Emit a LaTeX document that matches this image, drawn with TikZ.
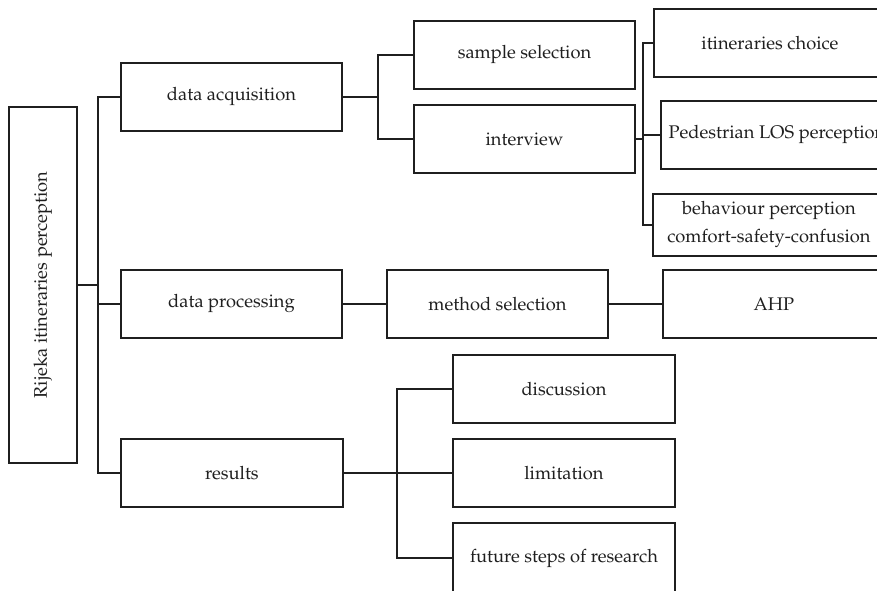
\documentclass[tikz,border=0pt]{standalone}
\usepackage[T1]{fontenc}
\usepackage{mathpazo}
\begin{document}
\begin{tikzpicture}[x=1pt,y=-1pt,
  box/.style={draw=black!88, line width=1.9pt, anchor=north west, inner sep=0pt,
    align=center, text=black!88, font=\fontsize{18.3}{28}\selectfont,
    minimum height=68pt},
  link/.style={draw=black!88, line width=1.9pt}]
\useasboundingbox (0,0) rectangle (877,590);
\clip (0,0) rectangle (877,590);
\fill[white] (0,0) rectangle (877,590);

% root
\node[box, minimum width=68pt, minimum height=356pt] (root) at (8,106)
  {\rotatebox{90}{Rijeka itineraries perception}};

% first level
\node[box, minimum width=221pt] (da) at (120,62) {data acquisition};
\node[box, minimum width=221pt] (dp) at (120,269) {data processing};
\node[box, minimum width=222pt] (res) at (120,438) {results};

% data acquisition branch
\node[box, minimum width=221pt] (ss) at (413,20) {sample selection};
\node[box, minimum width=221pt] (iv) at (413,104) {interview};
\node[box, minimum width=232pt] (it) at (653,8) {itineraries choice};
\node[box, minimum width=232pt] (ped) at (660,100) {Pedestrian LOS perception};
\node[box, minimum width=232pt, minimum height=62pt] (beh) at (652,193)
  {behaviour perception\\comfort-safety-confusion};

% data processing branch
\node[box, minimum width=221pt] (ms) at (386,269) {method selection};
\node[box, minimum width=222pt] (ahp) at (662,269) {AHP};

% results branch
\node[box, minimum width=222pt] (disc) at (452,354) {discussion};
\node[box, minimum width=222pt] (lim) at (452,438) {limitation};
\node[box, minimum width=222pt, minimum height=70pt] (fut) at (452,522) {future steps of research};

% connectors
\coordinate (t0) at (98,0);
\draw[link] (root.east) -- (root.east -| t0);
\draw[link] (da.west) -| (t0 |- res.west) -- (res.west);
\draw[link] (dp.west) -- (dp.west -| t0);

\coordinate (t1) at (378,0);
\draw[link] (da.east) -- (da.east -| t1);
\draw[link] (ss.west) -| (t1 |- iv.west) -- (iv.west);

\coordinate (t2) at (643,0);
\draw[link] (iv.east) -- (iv.east -| t2);
\draw[link] (it.west) -| (t2 |- beh.west) -- (beh.west);
\draw[link] (ped.west) -- (ped.west -| t2);

\draw[link] (dp.east) -- (ms.west);
\draw[link] (ms.east) -- (ahp.west);

\coordinate (t3) at (397,0);
\draw[link] (res.east) -- (res.east -| t3);
\draw[link] (disc.west) -| (t3 |- fut.west) -- (fut.west);
\draw[link] (lim.west) -- (lim.west -| t3);
\end{tikzpicture}
\end{document}
